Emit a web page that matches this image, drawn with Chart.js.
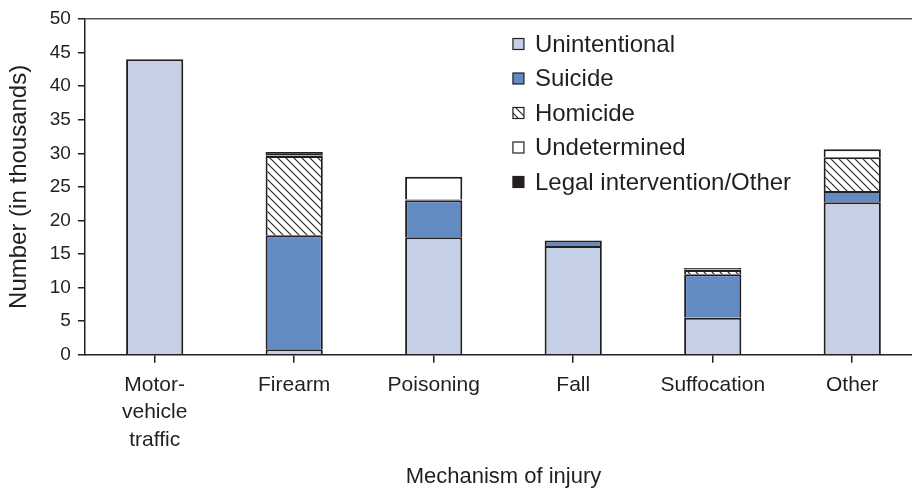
<!DOCTYPE html>
<html>
<head>
<meta charset="utf-8">
<script src="https://cdn.jsdelivr.net/npm/chart.js@4/dist/chart.umd.min.js"></script>
<style>
  html, body { margin: 0; padding: 0; background: #fff; overflow: hidden; }
  #wrap { width: 922px; height: 491px; }
</style>
</head>
<body>
<div id="wrap"><canvas id="injuryChart"></canvas></div>
<script>
// values in thousands
var categories = [['Motor-', 'vehicle', 'traffic'], 'Firearm', 'Poisoning', 'Fall', 'Suffocation', 'Other'];
var unintentional = [44.0, 0.8, 17.5, 16.2, 5.5, 22.7];
var suicide = [0, 17.0, 5.5, 0.8, 6.5, 1.7];
var homicide = [0, 11.8, 0.1, 0, 0.6, 5.0];
var undetermined = [0, 0.1, 3.4, 0, 0.1, 1.2];
var legalOther = [0, 0.5, 0, 0, 0.2, 0];
var yTicks = [0, 5, 10, 15, 20, 25, 30, 35, 40, 45, 50];

var FONT = "'Liberation Sans', Arial, Helvetica, sans-serif";
var INK = '#231f20';

function hatch() {
    var c = document.createElement('canvas');
    c.width = 8; c.height = 8;
    var g = c.getContext('2d');
    g.fillStyle = '#fff';
    g.fillRect(0, 0, 8, 8);
    g.strokeStyle = '#222';
    g.lineWidth = 1.1;
    g.beginPath();
    g.moveTo(-1, -1); g.lineTo(9, 9);
    g.moveTo(-1, 7); g.lineTo(1, 9);
    g.moveTo(7, -1); g.lineTo(9, 1);
    g.stroke();
    return g.createPattern(c, 'repeat');
}

var hatchFill = hatch();

function series(label, data, color) {
    return {
        label: label,
        data: data,
        backgroundColor: color,
        borderColor: INK,
        borderWidth: 2,
        barPercentage: 0.41,
        categoryPercentage: 1
    };
}

// legend drawn inside the plot, as in the figure
var boxLegend = {
    id: 'boxLegend',
    afterDraw: function (chart) {
        var ctx = chart.ctx, area = chart.chartArea;
        var x = area.left + 428, y = area.top + 25;
        ctx.save();
        ctx.font = '24px ' + FONT;
        ctx.textBaseline = 'middle';
        chart.data.datasets.forEach(function (ds, i) {
            var cy = y + i * 34.5;
            ctx.fillStyle = ds.backgroundColor;
            ctx.fillRect(x, cy - 5.5, 11, 11);
            ctx.strokeStyle = INK;
            ctx.lineWidth = 1.2;
            ctx.strokeRect(x, cy - 5.5, 11, 11);
            ctx.fillStyle = INK;
            ctx.fillText(ds.label, x + 22, cy + 1);
        });
        ctx.restore();
    }
};

var ctxB = document.getElementById('injuryChart').getContext('2d');
var injuryChart = new Chart(ctxB, {
    type: 'bar',
    data: {
        labels: categories,
        datasets: [
            series('Unintentional', unintentional, '#c5d0e7'),
            series('Suicide', suicide, '#628bc4'),
            series('Homicide', homicide, hatchFill),
            series('Undetermined', undetermined, '#ffffff'),
            series('Legal intervention/Other', legalOther, INK)
        ]
    },
    options: {
        responsive: true,
        maintainAspectRatio: false,
        animation: false,
        layout: { padding: { top: 19, right: 0, bottom: 0, left: 5 } },
        plugins: {
            legend: { display: false },
            tooltip: { enabled: false }
        },
        scales: {
            x: {
                stacked: true,
                grid: {
                    offset: false,
                    drawOnChartArea: false,
                    tickLength: 8,
                    tickColor: INK,
                    lineWidth: 1.5
                },
                border: { color: INK, width: 1.5 },
                ticks: {
                    color: INK,
                    padding: 9,
                    maxRotation: 0,
                    autoSkip: false,
                    font: { family: FONT, size: 21, lineHeight: 1.3 }
                },
                title: {
                    display: true,
                    text: 'Mechanism of injury',
                    color: INK,
                    padding: { top: 1, bottom: 1 },
                    font: { family: FONT, size: 22 }
                }
            },
            y: {
                stacked: true,
                min: 0,
                max: 50,
                afterBuildTicks: function (axis) {
                    axis.ticks = yTicks.map(function (v) { return { value: v }; });
                },
                grid: {
                    color: function (c) { return c.tick && c.tick.value === 50 ? '#555' : 'rgba(0,0,0,0)'; },
                    tickColor: INK,
                    tickLength: 7,
                    lineWidth: 1.5
                },
                border: { color: INK, width: 1.5 },
                ticks: {
                    color: INK,
                    padding: 7,
                    font: { family: FONT, size: 19 }
                },
                title: {
                    display: true,
                    text: 'Number (in thousands)',
                    color: INK,
                    padding: { top: 0, bottom: 9 },
                    font: { family: FONT, size: 24 }
                }
            }
        }
    },
    plugins: [boxLegend]
});
</script>
</body>
</html>
